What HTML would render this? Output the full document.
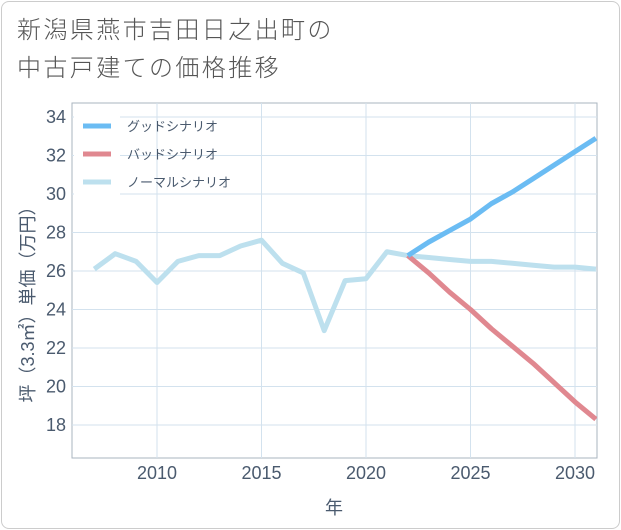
<!DOCTYPE html>
<html><head><meta charset="utf-8"><style>
body{margin:0;background:#fff;font-family:"Liberation Sans","Noto Sans CJK JP",sans-serif;}
#wrap{position:relative;width:621px;height:530px;}
#frame{position:absolute;left:1px;top:1px;width:617px;height:526px;border:1px solid #ccc;border-radius:8px;}
#title{position:absolute;left:17px;top:12px;font-size:24px;letter-spacing:2.4px;line-height:38px;color:#555;font-weight:300;}
svg{position:absolute;left:0;top:0;}
</style></head><body>
<div id="wrap">
<div id="frame"></div>
<div id="title">新潟県燕市吉田日之出町の<br>中古戸建ての価格推移</div>
<svg id="c" width="621" height="530"></svg>
</div>
<script>
const years=[2007,2008,2009,2010,2011,2012,2013,2014,2015,2016,2017,2018,2019,2020,2021,2022,2023,2024,2025,2026,2027,2028,2029,2030,2031];
const normal=[26.1,26.9,26.5,25.4,26.5,26.8,26.8,27.3,27.6,26.4,25.9,22.9,25.5,25.6,27.0,26.8,26.7,26.6,26.5,26.5,26.4,26.3,26.2,26.2,26.1];
const fYears=[2022,2023,2024,2025,2026,2027,2028,2029,2030,2031];
const good=[26.8,27.5,28.1,28.7,29.5,30.1,30.8,31.5,32.2,32.9];
const bad=[26.8,25.9,24.9,24.0,23.0,22.1,21.2,20.2,19.2,18.3];
const xTicks=[2010,2015,2020,2025,2030];
const yTicks=[18,20,22,24,26,28,30,32,34];
const L=72,R=597,T=103,B=458;
const x=v=>157+(v-2010)*20.9;
const y=v=>117+(34-v)*19.25;
const s=document.getElementById('c');const NS='http://www.w3.org/2000/svg';
function el(t,a,p){const e=document.createElementNS(NS,t);for(const k in a)e.setAttribute(k,a[k]);(p||s).appendChild(e);return e;}
el('rect',{x:L,y:T,width:R-L,height:B-T,fill:'#fff',stroke:'#aab4bf'});
for(const t of xTicks){const g=el('line',{x1:x(t),x2:x(t),y1:T,y2:B,stroke:'#d3e2ee'});

const tx=el('text',{x:x(t),y:479,'text-anchor':'middle','font-size':18,fill:'#4a5a6e'});tx.textContent=t;
}
for(const t of yTicks){const g=el('line',{x1:L,x2:R,y1:y(t),y2:y(t),stroke:'#d3e2ee'});

const tx=el('text',{x:66,y:y(t)+6,'text-anchor':'end','font-size':18,fill:'#4a5a6e'});tx.textContent=t;
}
function line(xs,vs,c,n){const p=el('polyline',{points:xs.map((v,i)=>x(v)+','+y(vs[i])).join(' '),fill:'none',stroke:c,'stroke-width':5,'stroke-linejoin':'round'});
}
const cp=el('clipPath',{id:'cp'});el('rect',{x:L,y:T,width:R-L,height:B-T},cp);
line(years,normal,'#bde0ee','normal-scenario-line');
line(fYears,bad,'#e08890','bad-scenario-line');
line(fYears,good,'#6bbcf3','good-scenario-line');
document.querySelectorAll('polyline').forEach(p=>p.setAttribute('clip-path','url(#cp)'));
const lg=el('rect',{x:74,y:112,width:46,height:84,fill:'#fff'});
const leg=[['グッドシナリオ','#6bbcf3'],['バッドシナリオ','#e08890'],['ノーマルシナリオ','#bde0ee']];
leg.forEach((d,i)=>{const yy=126+i*28;
const l=el('line',{x1:83,x2:111,y1:yy,y2:yy,stroke:d[1],'stroke-width':5});

const t=el('text',{x:127,y:yy+5,'font-size':13,fill:'#4a5a6e'});t.textContent=d[0];
});
const xt=el('text',{x:334,y:514,'text-anchor':'middle','font-size':18,fill:'#4a5a6e'});xt.textContent='年';

const yt=el('text',{x:0,y:0,'text-anchor':'middle','font-size':18,fill:'#4a5a6e',transform:'translate(34,300) rotate(-90)'});yt.textContent='坪（3.3㎡）単価（万円）';

</script>
</body></html>
